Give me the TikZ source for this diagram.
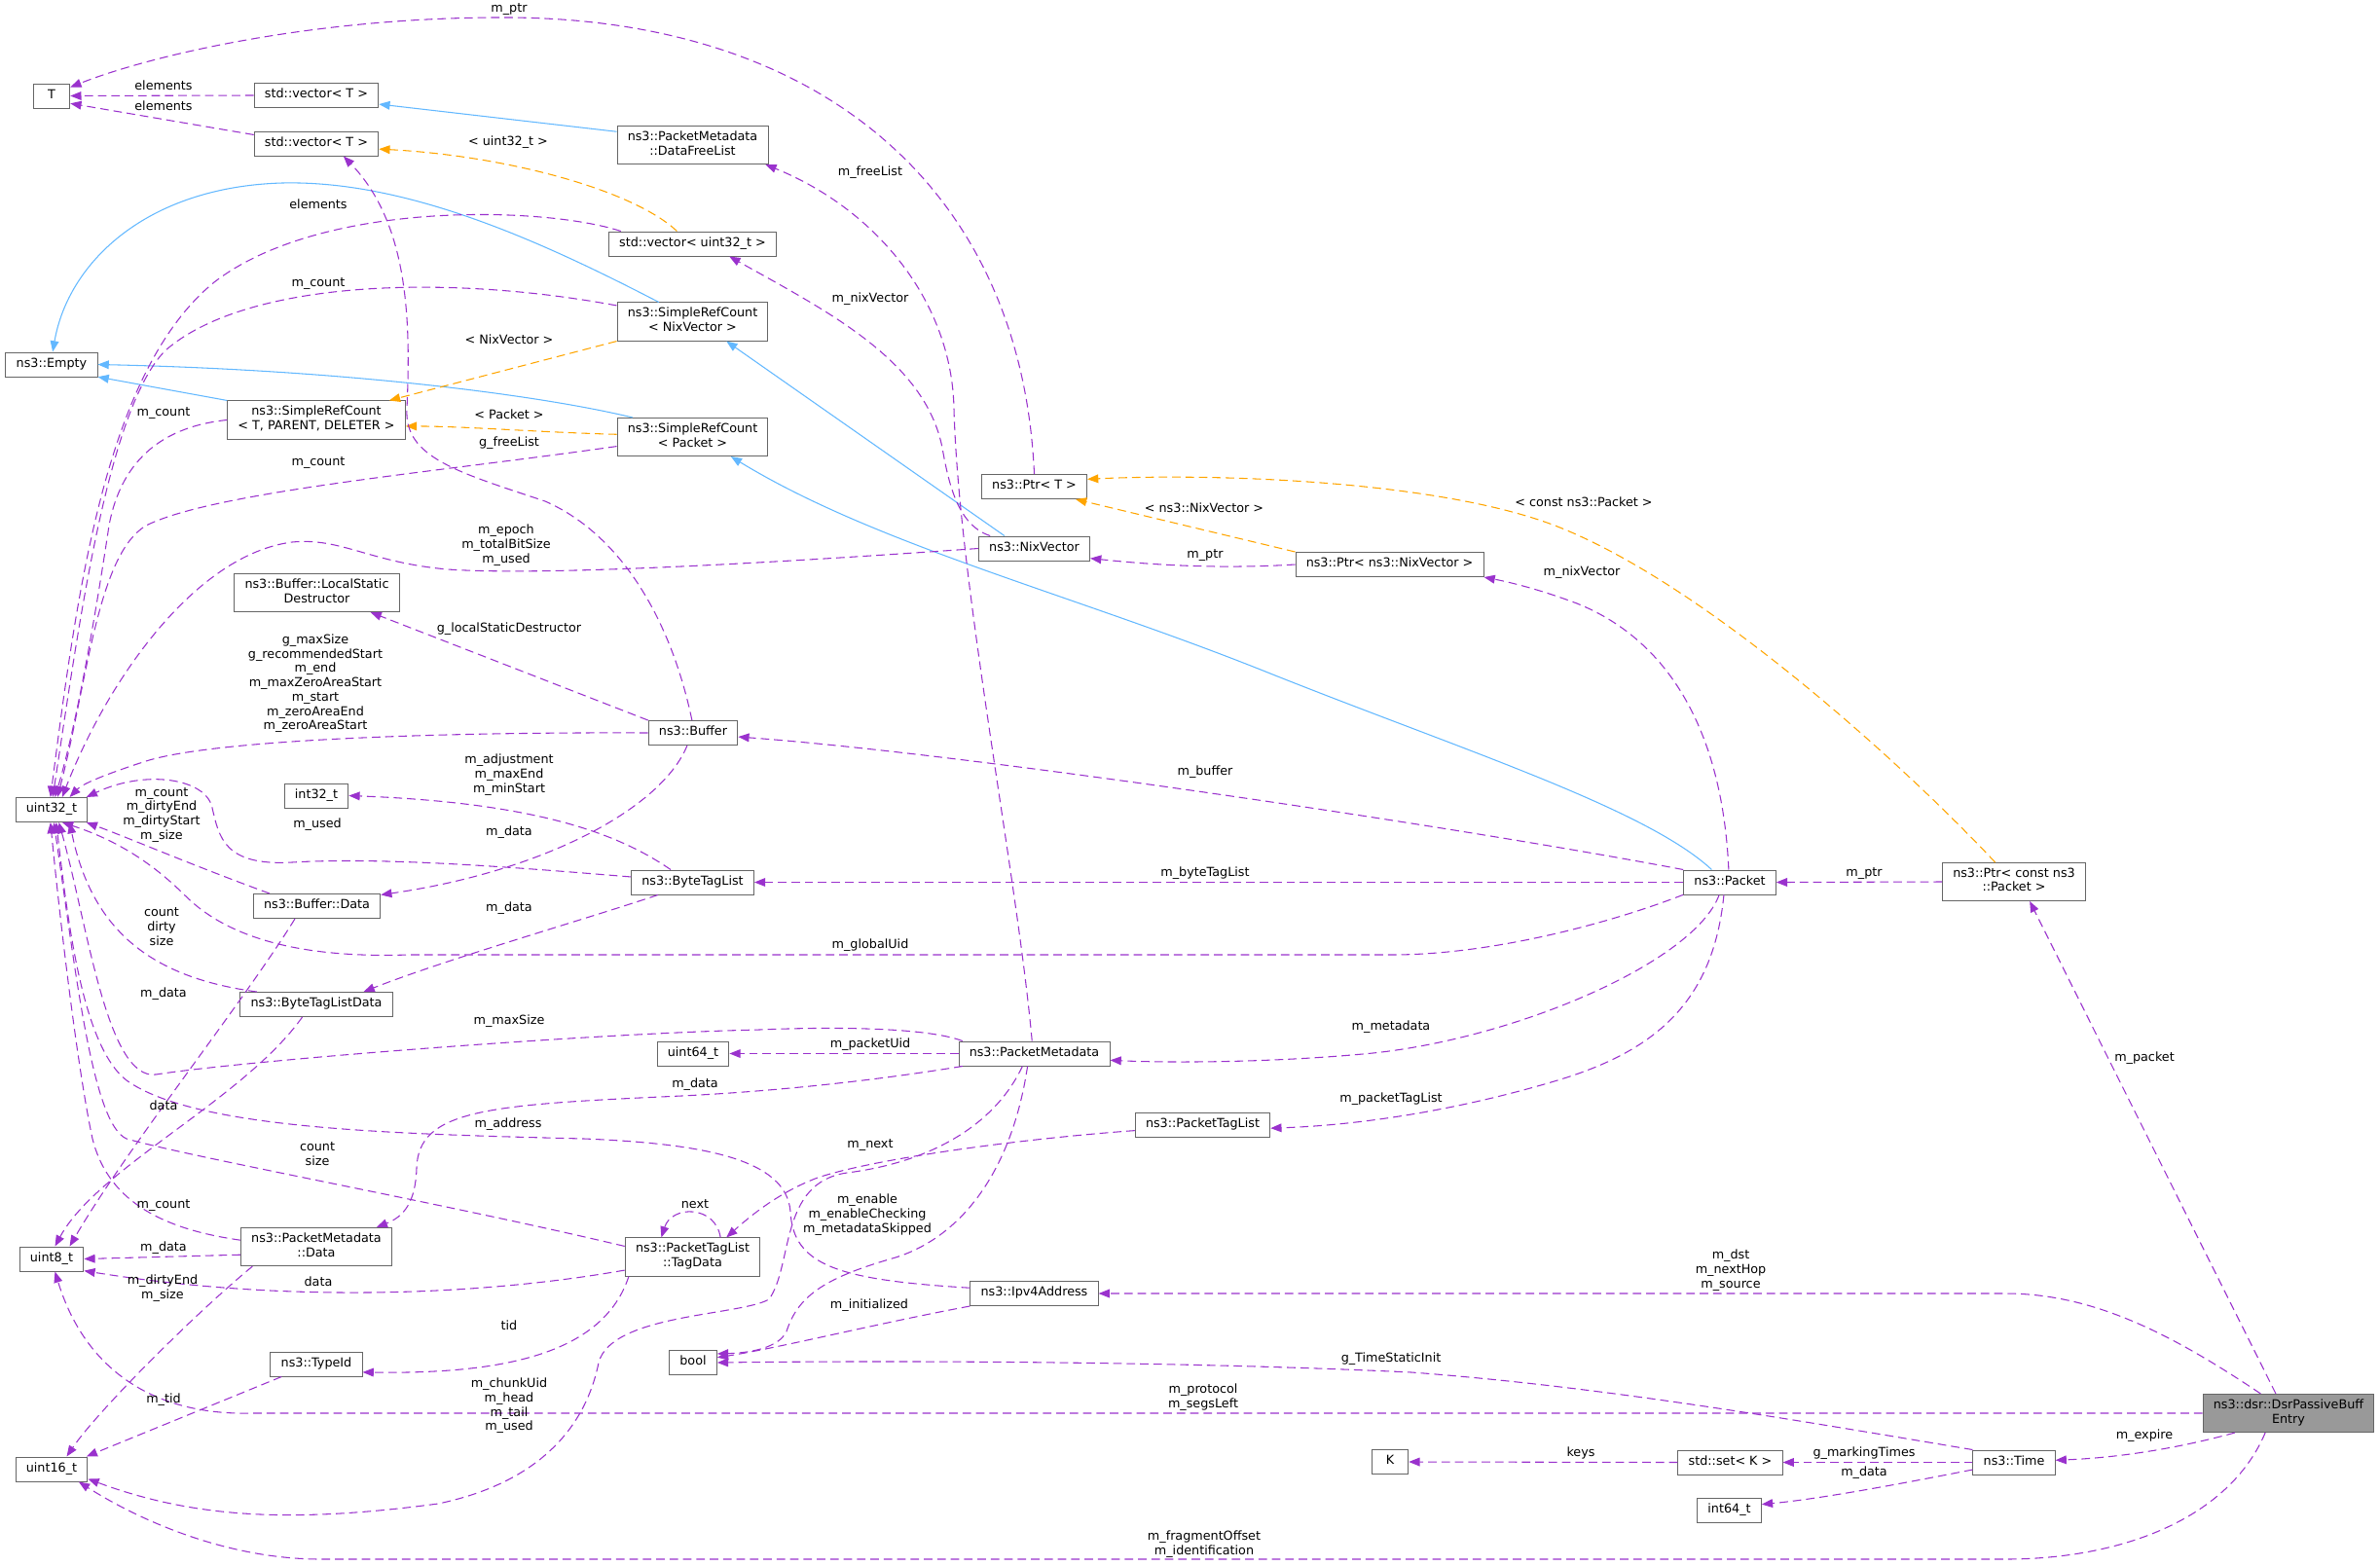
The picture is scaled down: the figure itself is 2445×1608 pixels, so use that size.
\documentclass[tikz,border=0pt]{standalone}
\usepackage{fontspec}
\setmainfont{DejaVu Sans}
\usetikzlibrary{
arrows.meta,
}
\definecolor{useline}{HTML}{9A32CD}
\definecolor{inhline}{HTML}{63B8FF}
\definecolor{tplline}{HTML}{FFA500}
\definecolor{boxline}{HTML}{666666}
\definecolor{boxcur}{HTML}{999999}
\tikzset{
every node/.style={align=center, font=\fontsize{10.2}{11.8}\selectfont},
cls/.style={rectangle, draw=boxline, line width=0.8pt, fill=white,
    inner xsep=8.6pt, inner ysep=4.1pt, minimum height=20pt, minimum width=30pt},
current/.style={cls, fill=boxcur},
lbl/.style={inner sep=0pt},
uses/.style={draw=useline, line width=0.85pt, dash pattern=on 7pt off 4pt},
inherits/.style={draw=inhline, line width=0.85pt},
instance/.style={draw=tplline, line width=0.85pt, dash pattern=on 7pt off 4pt},
>={Triangle[length=9pt,width=7pt]},
}
\tikzset{execute at begin node=\strut, execute at end node=\strut}
\begin{document}
\begin{tikzpicture}[x=0.8pt, y=-0.8pt]
    \useasboundingbox (0,0) rectangle (2445,1608);
    % classes
    \node (T) [cls] at (53,98.5) {T};
    \node (vecT1) [cls] at (325,98) {std::vector< T >};
    \node (vecT2) [cls] at (325,147.5) {std::vector< T >};
    \node (freeList) [cls] at (711.5,149) {ns3::PacketMetadata\\::DataFreeList};
    \node (vecU32) [cls] at (711.5,250.5) {std::vector< uint32\_t >};
    \node (srcNix) [cls] at (711.5,330.5) {ns3::SimpleRefCount\\< NixVector >};
    \node (empty) [cls] at (53,374.5) {ns3::Empty};
    \node (srcTPD) [cls] at (325,431.5) {ns3::SimpleRefCount\\< T, PARENT, DELETER >};
    \node (srcPkt) [cls] at (711.5,449) {ns3::SimpleRefCount\\< Packet >};
    \node (ptrT) [cls] at (1062.5,500) {ns3::Ptr< T >};
    \node (nix) [cls] at (1062.5,563.5) {ns3::NixVector};
    \node (ptrNix) [cls] at (1427.5,580) {ns3::Ptr< ns3::NixVector >};
    \node (lsd) [cls] at (325.5,609) {ns3::Buffer::LocalStatic\\Destructor};
    \node (buffer) [cls] at (712,753) {ns3::Buffer};
    \node (i32) [cls] at (325,817.5) {int32\_t};
    \node (u32) [cls] at (53,832) {uint32\_t};
    \node (btl) [cls] at (711.5,906.5) {ns3::ByteTagList};
    \node (pkt) [cls] at (1777,906.5) {ns3::Packet};
    \node (ptrPkt) [cls] at (2069,906) {ns3::Ptr< const ns3\\::Packet >};
    \node (bufData) [cls] at (325.5,931) {ns3::Buffer::Data};
    \node (btld) [cls] at (325,1032) {ns3::ByteTagListData};
    \node (u64) [cls] at (712,1082.5) {uint64\_t};
    \node (pm) [cls] at (1062.5,1082.5) {ns3::PacketMetadata};
    \node (ptl) [cls] at (1235.5,1155.5) {ns3::PacketTagList};
    \node (pmData) [cls] at (325,1281) {ns3::PacketMetadata\\::Data};
    \node (u8) [cls] at (53,1293.5) {uint8\_t};
    \node (tagData) [cls] at (711.5,1291.5) {ns3::PacketTagList\\::TagData};
    \node (ipv4) [cls] at (1062.5,1329) {ns3::Ipv4Address};
    \node (boolT) [cls] at (712,1400) {bool};
    \node (typeId) [cls] at (325,1401.5) {ns3::TypeId};
    \node (entry) [current] at (2351,1452) {ns3::dsr::DsrPassiveBuff\\Entry};
    \node (u16) [cls] at (53,1509.5) {uint16\_t};
    \node (K) [cls] at (1428,1502) {K};
    \node (setK) [cls] at (1777.5,1502.5) {std::set< K >};
    \node (time) [cls] at (2069,1502.5) {ns3::Time};
    \node (i64) [cls] at (1776.5,1551.5) {int64\_t};

    % inheritance
    \draw [inherits, ->] (freeList.170) -- (vecT1.-8);
    \draw [inherits, ->] (srcNix.150) .. controls (560,250) and (420,185) .. (290,188)
        .. controls (150,192) and (70,270) .. (empty.85);
    \draw [inherits, ->] (srcTPD.north west) -- (empty.-15);
    \draw [inherits, ->] (srcPkt.162) .. controls (550,405) and (350,380) .. (empty.east);
    \draw [inherits, ->] (nix.157) -- (srcNix.-30);
    \draw [inherits, ->] (pkt.145) .. controls (1690,830) and (1500,770) .. (1300,690)
        .. controls (1100,610) and (900,560) .. (srcPkt.-27);

    % template instances
    \draw [instance, ->] (vecU32.141) .. controls (650,195) and (520,160) .. (vecT2.-5);
    \draw [instance, ->] (srcNix.south west) -- (srcTPD.15);
    \draw [instance, ->] (srcPkt.178) .. controls (550,444) and (480,438) .. (srcTPD.-4);
    \draw [instance, ->] (ptrNix.north west) -- (ptrT.-17);
    \draw [instance, ->] (ptrPkt.134) .. controls (1950,780) and (1750,600) .. (1600,541)
        .. controls (1480,494) and (1250,486) .. (ptrT.8);

    % usage
    \draw [uses, ->] (ptrT.north) .. controls (1050,200) and (850,20) .. (523,18)
        .. controls (330,17) and (160,55) .. (T.25);
    \draw [uses, ->] (vecT1.west) -- (T.east);
    \draw [uses, ->] (vecT2.172) -- (T.-22);
    \draw [uses, ->] (vecU32.170) .. controls (560,212) and (330,205) .. (220,290)
        .. controls (110,380) and (80,600) .. (u32.95);
    \draw [uses, ->] (srcNix.168) .. controls (450,280) and (250,290) .. (170,360)
        .. controls (110,420) and (80,650) .. (u32.85);
    \draw [uses, ->] (srcTPD.west) .. controls (170,438) and (125,470) .. (112,540)
        .. controls (100,620) and (80,740) .. (u32.75);
    \draw [uses, ->] (srcPkt.187) .. controls (450,485) and (220,505) .. (150,540)
        .. controls (100,570) and (90,700) .. (u32.65);
    \draw [uses, ->] (buffer.95) .. controls (690,640) and (640,550) .. (560,515)
        .. controls (470,485) and (415,470) .. (418,420)
        .. controls (422,330) and (420,230) .. (vecT2.-25);
    \draw [uses, ->] (nix.west) .. controls (800,578) and (560,592) .. (460,585)
        .. controls (380,578) and (350,552) .. (300,557)
        .. controls (200,570) and (110,700) .. (u32.50);
    \draw [uses, ->] (buffer.north west) -- (lsd.-20);
    \draw [uses, ->] (buffer.west) .. controls (450,752) and (220,760) .. (150,782)
        .. controls (110,795) and (85,805) .. (u32.35);
    \draw [uses, ->] (btl.150) .. controls (640,860) and (560,825) .. (i32.east);
    \draw [uses, ->] (btl.175) .. controls (550,893) and (400,880) .. (300,886)
        .. controls (230,890) and (225,860) .. (218,830)
        .. controls (212,800) and (150,790) .. (u32.20);
    \draw [uses, ->] (buffer.-115) .. controls (680,830) and (560,895) .. (bufData.10);
    \draw [uses, ->] (bufData.165) .. controls (200,890) and (130,860) .. (u32.-20);
    \draw [uses, ->] (btl.-160) .. controls (600,945) and (460,985) .. (btld.15);
    \draw [uses, ->] (btld.168) .. controls (160,1005) and (95,960) .. (u32.-35);
    \draw [uses, ->] (pkt.-165) .. controls (1650,950) and (1530,981) .. (1430,981)
        -- (420,981) .. controls (300,985) and (230,960) .. (190,920)
        .. controls (150,880) and (110,860) .. (u32.-50);
    \draw [uses, ->] (bufData.-150) .. controls (250,1030) and (130,1180) .. (u8.35);
    \draw [uses, ->] (btld.-138) .. controls (250,1130) and (100,1200) .. (u8.75);
    \draw [uses, ->] (pm.170) .. controls (950,1055) and (850,1055) .. (780,1058)
        .. controls (600,1062) and (250,1090) .. (160,1104)
        .. controls (110,1110) and (90,950) .. (u32.-60);
    \draw [uses, ->] (pm.west) -- (u64.east);
    \draw [uses, ->] (pm.-170) .. controls (900,1110) and (800,1121) .. (700,1126)
        .. controls (500,1135) and (430,1140) .. (428,1200)
        .. controls (427,1235) and (415,1250) .. (pmData.18);
    \draw [uses, ->] (pm.100) .. controls (1045,900) and (985,600) .. (980,420)
        .. controls (978,310) and (900,215) .. (freeList.-15);
    \draw [uses, ->] (nix.164) .. controls (985,540) and (975,500) .. (968,460)
        .. controls (950,370) and (850,320) .. (vecU32.-19);
    \draw [uses, ->] (pkt.north west) .. controls (1500,850) and (1000,775) .. (buffer.-5);
    \draw [uses, ->] (pkt.west) -- (btl.east);
    \draw [uses, ->] (pkt.-130) .. controls (1740,990) and (1550,1070) .. (1400,1083)
        .. controls (1300,1092) and (1200,1092) .. (pm.-5);
    \draw [uses, ->] (pkt.-115) .. controls (1760,1030) and (1700,1080) .. (1600,1110)
        .. controls (1500,1140) and (1400,1156) .. (ptl.-3);
    \draw [uses, ->] (pkt.95) .. controls (1770,760) and (1720,660) .. (1620,620)
        .. controls (1580,605) and (1550,598) .. (ptrNix.south east);
    \draw [uses, ->] (ptrNix.west) .. controls (1250,585) and (1180,580) .. (nix.-10);
    \draw [uses, ->] (ptrPkt.west) -- (pkt.east);
    \draw [uses, ->] (entry.123) -- (ptrPkt.-51);
    \draw [uses, ->] (entry.145) .. controls (2230,1370) and (2150,1329) .. (2060,1329)
        -- (ipv4.east);
    \draw [uses, ->] (entry.west) -- (260,1452) .. controls (150,1455) and (85,1400) .. (u8.-75);
    \draw [uses, ->] (entry.-160) .. controls (2230,1490) and (2170,1498) .. (time.3);
    \draw [uses, ->] (entry.-140) .. controls (2290,1560) and (2180,1602) .. (2060,1602)
        -- (330,1602) .. controls (230,1602) and (140,1560) .. (u16.-25);
    \draw [uses, ->] (time.north west) .. controls (1850,1460) and (1650,1425) .. (1450,1410)
        .. controls (1200,1398) and (900,1398) .. (boolT.east);
    \draw [uses, ->] (time.west) -- (setK.east);
    \draw [uses, ->] (time.-170) .. controls (1950,1525) and (1870,1540) .. (i64.10);
    \draw [uses, ->] (setK.west) -- (K.east);
    \draw [uses, ->] (ipv4.south west) .. controls (900,1360) and (800,1385) .. (boolT.12);
    \draw [uses, ->] (ipv4.175) .. controls (860,1315) and (815,1300) .. (812,1245)
        .. controls (808,1190) and (720,1175) .. (600,1170)
        .. controls (400,1165) and (200,1160) .. (130,1110)
        .. controls (85,1075) and (70,950) .. (u32.-70);
    \draw [uses, ->] (pm.-118) .. controls (1040,1200) and (990,1270) .. (920,1292)
        .. controls (850,1312) and (820,1330) .. (808,1368)
        .. controls (800,1385) and (770,1390) .. (boolT.20);
    \draw [uses, ->] (ptl.-175) .. controls (1050,1170) and (900,1190) .. (840,1210)
        .. controls (800,1225) and (770,1250) .. (tagData.30);
    \draw [uses, ->] (tagData.35) .. controls (735,1238) and (690,1238) .. (tagData.148);
    \draw [uses, ->] (tagData.171) .. controls (450,1235) and (200,1190) .. (130,1170)
        .. controls (95,1155) and (78,1000) .. (u32.-80);
    \draw [uses, ->] (tagData.-169) .. controls (500,1330) and (300,1340) .. (u8.-20);
    \draw [uses, ->] (pmData.186) -- (u8.east);
    \draw [uses, ->] (pmData.175) .. controls (160,1262) and (110,1230) .. (95,1170)
        .. controls (80,1100) and (62,950) .. (u32.-95);
    \draw [uses, ->] (pmData.-163) .. controls (200,1350) and (100,1450) .. (u16.40);
    \draw [uses, ->] (tagData.-163) .. controls (620,1390) and (520,1412) .. (typeId.-10);
    \draw [uses, ->] (typeId.-160) -- (u16.20);
    \draw [uses, ->] (pm.-133) .. controls (1020,1160) and (950,1195) .. (870,1205)
        .. controls (800,1215) and (815,1300) .. (790,1335)
        .. controls (760,1352) and (628,1350) .. (615,1400)
        .. controls (605,1450) and (570,1520) .. (450,1545)
        .. controls (300,1565) and (200,1560) .. (u16.-15);

    % edge labels
    \node (lPtrT) [lbl] at (523,10) {m\_ptr};
    \node (lElem1) [lbl] at (168,90) {elements};
    \node (lElem2) [lbl] at (168,111) {elements};
    \node (lU32t) [lbl] at (522,147) {< uint32\_t >};
    \node (lFree) [lbl] at (894,178) {m\_freeList};
    \node (lElem3) [lbl] at (327,212) {elements};
    \node (lCnt1) [lbl] at (327,292) {m\_count};
    \node (lNixVec) [lbl] at (894,308) {m\_nixVector};
    \node (lNixT) [lbl] at (523,351) {< NixVector >};
    \node (lCnt2) [lbl] at (168,425) {m\_count};
    \node (lPktT) [lbl] at (523,428) {< Packet >};
    \node (lGFree) [lbl] at (523,456) {g\_freeList};
    \node (lCnt3) [lbl] at (327,476) {m\_count};
    \node (lCPkt) [lbl] at (1627,518) {< const ns3::Packet >};
    \node (lNsNix) [lbl] at (1237,524) {< ns3::NixVector >};
    \node (lEpoch) [lbl] at (520,561) {m\_epoch\\m\_totalBitSize\\m\_used};
    \node (lPtrNix) [lbl] at (1238,571) {m\_ptr};
    \node (lPNix) [lbl] at (1625,589) {m\_nixVector};
    \node (lLsd) [lbl] at (523,647) {g\_localStaticDestructor};
    \node (lMax) [lbl] at (324,703) {g\_maxSize\\g\_recommendedStart\\m\_end\\m\_maxZeroAreaStart\\m\_start\\m\_zeroAreaEnd\\m\_zeroAreaStart};
    \node (lBuf) [lbl] at (1238,794) {m\_buffer};
    \node (lAdj) [lbl] at (523,797) {m\_adjustment\\m\_maxEnd\\m\_minStart};
    \node (lDirty) [lbl] at (166,838) {m\_count\\m\_dirtyEnd\\m\_dirtyStart\\m\_size};
    \node (lUsed) [lbl] at (326,848) {m\_used};
    \node (lBData) [lbl] at (523,856) {m\_data};
    \node (lBtl) [lbl] at (1238,898) {m\_byteTagList};
    \node (lPtrPkt) [lbl] at (1915,898) {m\_ptr};
    \node (lBtld) [lbl] at (523,934) {m\_data};
    \node (lCds) [lbl] at (166,954) {count\\dirty\\size};
    \node (lUid) [lbl] at (894,972) {m\_globalUid};
    \node (lBdU8) [lbl] at (168,1022) {m\_data};
    \node (lMaxS) [lbl] at (523,1050) {m\_maxSize};
    \node (lMeta) [lbl] at (1429,1056) {m\_metadata};
    \node (lPUid) [lbl] at (894,1074) {m\_packetUid};
    \node (lPacket) [lbl] at (2203,1088) {m\_packet};
    \node (lPmData) [lbl] at (714,1115) {m\_data};
    \node (lPtl) [lbl] at (1429,1130) {m\_packetTagList};
    \node (lData1) [lbl] at (168,1138) {data};
    \node (lAddr) [lbl] at (522,1156) {m\_address};
    \node (lNext) [lbl] at (894,1177) {m\_next};
    \node (lCs) [lbl] at (326,1188) {count\\size};
    \node (lCnt4) [lbl] at (168,1239) {m\_count};
    \node (lLoop) [lbl] at (714,1239) {next};
    \node (lEnable) [lbl] at (891,1249) {m\_enable\\m\_enableChecking\\m\_metadataSkipped};
    \node (lPmdU8) [lbl] at (168,1283) {m\_data};
    \node (lDst) [lbl] at (1778,1306) {m\_dst\\m\_nextHop\\m\_source};
    \node (lData2) [lbl] at (327,1319) {data};
    \node (lDirtyEnd) [lbl] at (167,1324) {m\_dirtyEnd\\m\_size};
    \node (lInit) [lbl] at (893,1342) {m\_initialized};
    \node (lTid) [lbl] at (523,1364) {tid};
    \node (lTsi) [lbl] at (1429,1397) {g\_TimeStaticInit};
    \node (lProto) [lbl] at (1236,1436) {m\_protocol\\m\_segsLeft};
    \node (lMTid) [lbl] at (168,1439) {m\_tid};
    \node (lChunk) [lbl] at (523,1445) {m\_chunkUid\\m\_head\\m\_tail\\m\_used};
    \node (lExp) [lbl] at (2203,1476) {m\_expire};
    \node (lMark) [lbl] at (1915,1494) {g\_markingTimes};
    \node (lKeys) [lbl] at (1624,1494) {keys};
    \node (lI64) [lbl] at (1915,1514) {m\_data};
    \node (lFrag) [lbl] at (1237,1587) {m\_fragmentOffset\\m\_identification};
\end{tikzpicture}
\end{document}
